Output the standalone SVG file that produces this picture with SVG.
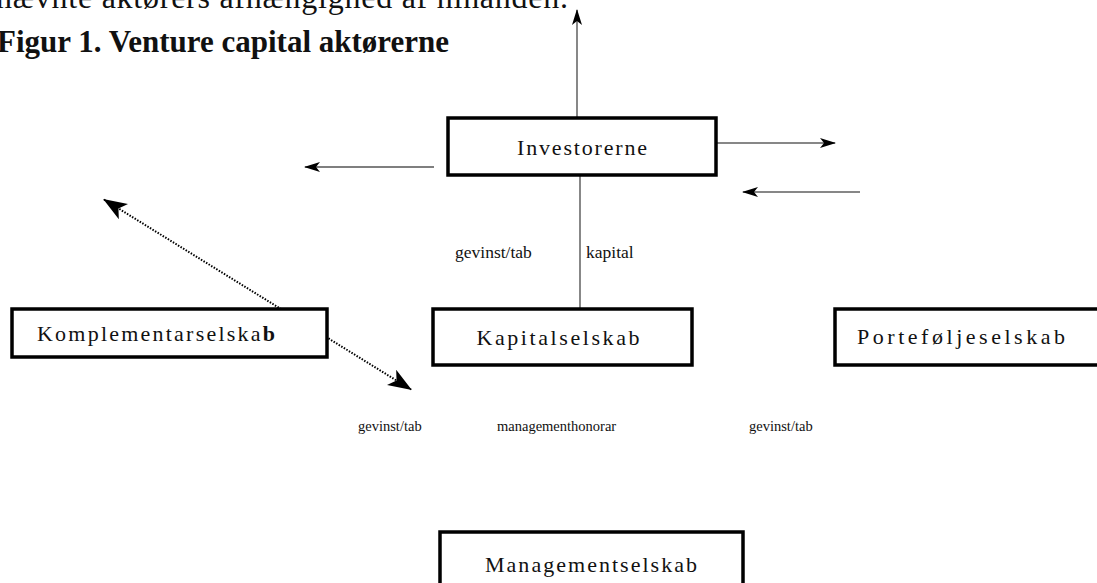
<svg xmlns="http://www.w3.org/2000/svg" width="1097" height="583" viewBox="0 0 1097 583">
<style>
.box{fill:#fff;stroke:#000;stroke-width:3.5}
.lbl{font-family:"Liberation Serif","Times New Roman",serif;fill:#111}
.node{font-size:22px;text-anchor:middle}
.ln{stroke:#555;stroke-width:1.4;fill:none}
.ln2{stroke:#111;stroke-width:1.2;fill:none}
.dot{stroke:#000;stroke-width:2;stroke-dasharray:1.5 1.5;fill:none}
</style>
<defs>
<marker id="ah" viewBox="0 0 16 10" refX="15" refY="5" markerWidth="16" markerHeight="10" markerUnits="userSpaceOnUse" orient="auto">
<path d="M0,0 L16,5 L0,10 L4,5 Z" fill="#000"/>
</marker>
<marker id="big" viewBox="0 0 24 18" refX="23" refY="9" markerWidth="24" markerHeight="18" markerUnits="userSpaceOnUse" orient="auto-start-reverse">
<path d="M0,0 L24,9 L0,18 L6,9 Z" fill="#000"/>
</marker>
</defs>
<rect width="1097" height="583" fill="#fff"/>
<text class="lbl" x="-4" y="8" font-size="32" textLength="572" lengthAdjust="spacing">nævnte aktørers afhængighed af hinanden.</text>
<text class="lbl" x="-3" y="52" font-size="31" font-weight="bold">Figur 1. Venture capital aktørerne</text>
<g id="connectors">
<line class="ln" x1="577" y1="118" x2="577" y2="10" marker-end="url(#ah)"/>
<line class="ln2" x1="716" y1="143" x2="835" y2="143" marker-end="url(#ah)"/>
<line class="ln" x1="434" y1="167" x2="305" y2="167" marker-end="url(#ah)"/>
<line class="ln2" x1="860" y1="192" x2="743" y2="192" marker-end="url(#ah)"/>
<line class="ln" x1="580" y1="175" x2="580" y2="309"/>
<line class="dot" x1="104" y1="199.5" x2="411" y2="389.5" marker-start="url(#big)" marker-end="url(#big)"/>
<text class="lbl" x="455" y="258" font-size="17.5">gevinst/tab</text>
<text class="lbl" x="586" y="258" font-size="17.5">kapital</text>
<text class="lbl" x="358" y="431" font-size="14.5">gevinst/tab</text>
<text class="lbl" x="497" y="431" font-size="14.5">managementhonorar</text>
<text class="lbl" x="749" y="431" font-size="14.5">gevinst/tab</text>
</g>
<g id="investorerne">
<rect class="box" x="448" y="118" width="268" height="57"/>
<text class="lbl node" x="582" y="155" textLength="130" lengthAdjust="spacing">Investorerne</text>
</g>
<g id="komplementarselskab">
<rect class="box" x="12" y="309" width="315" height="48"/>
<text class="lbl" x="37" y="341" font-size="22" textLength="238" lengthAdjust="spacing">Komplementarselska<tspan font-weight="bold">b</tspan></text>
</g>
<g id="kapitalselskab">
<rect class="box" x="433" y="309" width="259" height="56"/>
<text class="lbl node" x="558" y="345" textLength="163" lengthAdjust="spacing">Kapitalselskab</text>
</g>
<g id="portefoljeselskab">
<rect class="box" x="835" y="309" width="280" height="56"/>
<text class="lbl node" x="961" y="344" textLength="208" lengthAdjust="spacing">Porteføljeselskab</text>
</g>
<g id="managementselskab">
<rect class="box" x="440" y="532" width="303" height="70"/>
<text class="lbl node" x="591" y="572" textLength="212" lengthAdjust="spacing">Managementselskab</text>
</g>
</svg>
